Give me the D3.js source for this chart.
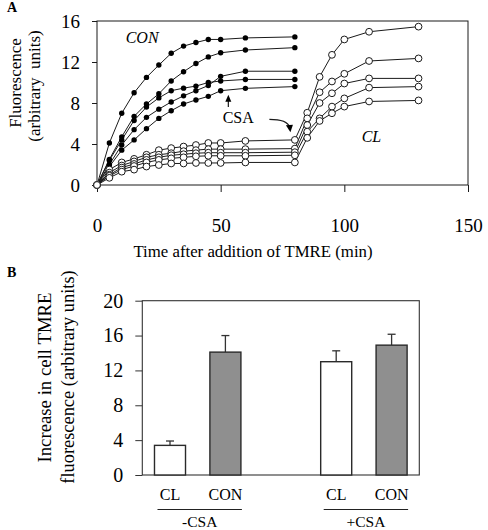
<!DOCTYPE html>
<html>
<head>
<meta charset="utf-8">
<script src="https://cdn.jsdelivr.net/npm/d3@7"></script>
<style>
  html, body { margin: 0; padding: 0; background: #fff; }
  svg { display: block; }
  svg text { font-family: "Liberation Serif", "Times New Roman", serif !important; }
</style>
</head>
<body>
<svg id="chart" width="488" height="530"></svg>
<script>
// ---------------- Panel A data ----------------
const conTimes = [0, 5, 10, 15, 20, 25, 30, 35, 40, 45, 50, 60, 80];
const con1 = [0, 4.1, 7.0, 9.0, 10.5, 11.7, 12.85, 13.55, 13.9, 14.2, 14.2, 14.35, 14.45];
const con2 = [0, 2.5, 4.7, 6.7, 7.9, 8.9, 10.15, 11.05, 11.85, 12.5, 12.9, 13.17, 13.4];
const con3 = [0, 2.0, 3.9, 5.4, 6.6, 7.4, 8.1, 8.7, 9.2, 9.7, 10.6, 11.1, 11.1];
const con4 = [0, 2.4, 4.4, 6.3, 7.6, 8.5, 9.2, 9.45, 9.65, 10.0, 10.15, 10.3, 10.3];
const con5 = [0, 1.8, 3.4, 4.4, 5.5, 6.5, 7.25, 7.9, 8.3, 8.65, 9.2, 9.43, 9.6];

const clTimes = [0, 5, 10, 15, 20, 25, 30, 35, 40, 45, 50, 60, 80, 85, 90, 95, 100, 110, 130];
const cl1 = [0, 1.5, 2.2, 2.55, 2.95, 3.4, 3.6, 3.75, 3.9, 4.1, 4.1, 4.3, 4.4, 7.05, 10.55, 12.7, 14.2, 14.95, 15.45];
const cl2 = [0, 1.2, 1.9, 2.3, 2.7, 2.95, 3.1, 3.3, 3.4, 3.5, 3.5, 3.5, 3.55, 6.5, 9.05, 10.1, 10.85, 12.1, 12.35];
const cl3 = [0, 1.0, 1.7, 2.05, 2.45, 2.7, 2.9, 3.0, 3.1, 3.15, 3.15, 3.15, 3.2, 5.85, 8.0, 8.95, 9.9, 10.4, 10.4];
const cl4 = [0, 0.9, 1.5, 1.85, 2.2, 2.45, 2.6, 2.7, 2.8, 2.85, 2.85, 2.85, 2.9, 5.2, 6.5, 7.65, 8.45, 9.5, 9.6];
const cl5 = [0, 0.7, 1.3, 1.5, 1.8, 1.95, 2.1, 2.1, 2.15, 2.15, 2.15, 2.2, 2.2, 4.6, 6.25, 7.0, 7.65, 8.15, 8.25];

const conSeries = [con1, con2, con3, con4, con5];
const clSeries = [cl1, cl2, cl3, cl4, cl5];

const aXTicks = [0, 50, 100, 150];
const aYTicks = [0, 4, 8, 12, 16];

// ---------------- Panel B data ----------------
const barGroups = ["-CSA", "+CSA"];
const barCats = ["CL", "CON"];
const barValues = [3.4, 14.1, 13.0, 14.9];   // -CSA CL, -CSA CON, +CSA CL, +CSA CON
const barErrors = [0.5, 1.9, 1.25, 1.25];
const bYTicks = [0, 4, 8, 12, 16, 20];

// ---------------- Drawing ----------------
const FONT = "Liberation Serif";
const svg = d3.select("#chart").attr("font-family", FONT);
const ink = "#1a1a1a";

// ===== Panel A =====
const A = { left: 97, right: 468, top: 21, bottom: 185 };
const xA = d3.scaleLinear().domain([0, 150]).range([A.left, A.right]);
const yA = d3.scaleLinear().domain([0, 16]).range([A.bottom, A.top]);

const gA = svg.append("g");

gA.append("rect")
  .attr("x", A.left).attr("y", A.top)
  .attr("width", A.right - A.left).attr("height", A.bottom - A.top)
  .attr("fill", "none").attr("stroke", ink).attr("stroke-width", 1);

const axA_y = gA.append("g").attr("transform", `translate(${A.left},0)`)
  .call(d3.axisLeft(yA).tickValues(aYTicks).tickSize(5).tickSizeOuter(0).tickPadding(12));
const axA_x = gA.append("g").attr("transform", `translate(0,${A.bottom})`)
  .call(d3.axisBottom(xA).tickValues(aXTicks).tickSize(7).tickSizeOuter(0).tickPadding(27));
[axA_y, axA_x].forEach(ax => {
  ax.attr("font-family", FONT).attr("font-size", 19);
  ax.select(".domain").remove();
  ax.selectAll("line").attr("stroke", ink);
  ax.selectAll("text").style("font-family", FONT).attr("font-size", 19).attr("fill", "#000");
});

const lineCon = (vals) => d3.line().x((d, i) => xA(conTimes[i])).y(d => yA(d))(vals);
const lineCl = (vals) => d3.line().x((d, i) => xA(clTimes[i])).y(d => yA(d))(vals);

conSeries.forEach(s => {
  gA.append("path").attr("d", lineCon(s)).attr("fill", "none").attr("stroke", ink).attr("stroke-width", 1);
});
conSeries.forEach(s => {
  gA.append("g").selectAll("circle").data(s).join("circle")
    .attr("cx", (d, i) => xA(conTimes[i])).attr("cy", d => yA(d))
    .attr("r", 2.7).attr("fill", "#000");
});
clSeries.forEach(s => {
  gA.append("path").attr("d", lineCl(s)).attr("fill", "none").attr("stroke", ink).attr("stroke-width", 1);
});
clSeries.forEach(s => {
  gA.append("g").selectAll("circle").data(s).join("circle")
    .attr("cx", (d, i) => xA(clTimes[i])).attr("cy", d => yA(d))
    .attr("r", 3.4).attr("fill", "#fff").attr("stroke", ink).attr("stroke-width", 1);
});

// annotations
gA.append("text").attr("x", xA(11.6)).attr("y", yA(13.88))
  .attr("font-size", 16).attr("font-style", "italic").text("CON");
gA.append("text").attr("x", xA(107)).attr("y", yA(4.22))
  .attr("font-size", 16).attr("font-style", "italic").text("CL");
gA.append("text").attr("x", xA(50.8)).attr("y", yA(6.05))
  .attr("font-size", 16).text("CSA");

const upX = xA(53.1), upTip = yA(8.8), upTail = yA(7.6);
gA.append("line").attr("x1", upX).attr("x2", upX).attr("y1", upTail).attr("y2", upTip + 5)
  .attr("stroke", ink).attr("stroke-width", 1.2);
gA.append("path")
  .attr("d", `M${upX},${upTip} L${upX - 3},${upTip + 7} L${upX + 3},${upTip + 7} Z`)
  .attr("fill", "#000");

const cs = [xA(69.7), yA(6.4)], cc = [xA(77.0), yA(6.4)], ct = [xA(78.2), yA(5.15)];
gA.append("path")
  .attr("d", `M${cs[0]},${cs[1]} Q${cc[0]},${cc[1]} ${ct[0] - 0.8},${ct[1] - 5}`)
  .attr("fill", "none").attr("stroke", ink).attr("stroke-width", 1.2);
gA.append("path")
  .attr("d", `M${ct[0]},${ct[1]} L${ct[0] - 4.5},${ct[1] - 7} L${ct[0] + 2.5},${ct[1] - 7.5} Z`)
  .attr("fill", "#000");

gA.append("text").attr("transform", `translate(21,83) rotate(-90)`)
  .attr("text-anchor", "middle").attr("font-size", 17).text("Fluorescence");
gA.append("text").attr("transform", `translate(40,86) rotate(-90)`)
  .attr("text-anchor", "middle").attr("font-size", 17)
  .style("white-space", "pre").text("(arbitrary  units)");
gA.append("text").attr("x", 253).attr("y", 257)
  .attr("text-anchor", "middle").attr("font-size", 16.8).text("Time after addition of TMRE (min)");

svg.append("text").attr("x", 7).attr("y", 12).attr("font-size", 14).attr("font-weight", "bold").text("A");
svg.append("text").attr("x", 7).attr("y", 277).attr("font-size", 14).attr("font-weight", "bold").text("B");

// ===== Panel B =====
const B = { left: 142.3, right: 419.3, top: 300.7, bottom: 475 };
const slots = ["-CSA|CL", "-CSA|CON", "gap", "+CSA|CL", "+CSA|CON"];
const xB = d3.scaleBand().domain(slots).range([B.left, B.right]).paddingInner(0.44).paddingOuter(0.22);
const yB = d3.scaleLinear().domain([0, 20]).range([B.bottom, B.top]);

const gB = svg.append("g");
gB.append("rect")
  .attr("x", B.left).attr("y", B.top)
  .attr("width", B.right - B.left).attr("height", B.bottom - B.top)
  .attr("fill", "none").attr("stroke", "#333").attr("stroke-width", 1.1);

const axB_y = gB.append("g").attr("transform", `translate(${B.left},0)`)
  .call(d3.axisLeft(yB).tickValues(bYTicks).tickSize(7).tickSizeOuter(0).tickPadding(12));
axB_y.attr("font-family", FONT).attr("font-size", 20);
axB_y.select(".domain").remove();
axB_y.selectAll("line").attr("stroke", "#333");
axB_y.selectAll("text").style("font-family", FONT).attr("font-size", 20).attr("fill", "#000");

const barData = [];
barGroups.forEach((g, gi) => barCats.forEach((c, ci) => {
  const k = gi * 2 + ci;
  barData.push({ key: g + "|" + c, group: g, cat: c, v: barValues[k], e: barErrors[k] });
}));

barData.forEach(d => {
  const cx = xB(d.key) + xB.bandwidth() / 2;
  gB.append("line").attr("x1", cx).attr("x2", cx).attr("y1", yB(d.v)).attr("y2", yB(d.v + d.e))
    .attr("stroke", "#333").attr("stroke-width", 1.3);
  gB.append("line").attr("x1", cx - 4).attr("x2", cx + 4).attr("y1", yB(d.v + d.e)).attr("y2", yB(d.v + d.e))
    .attr("stroke", "#333").attr("stroke-width", 1.3);
});
gB.selectAll("rect.bar").data(barData).join("rect").attr("class", "bar")
  .attr("x", d => xB(d.key)).attr("width", xB.bandwidth())
  .attr("y", d => yB(d.v)).attr("height", d => yB(0) - yB(d.v))
  .attr("fill", d => d.cat === "CL" ? "#ffffff" : "#8f8f8f")
  .attr("stroke", "#2a2a2a").attr("stroke-width", 1.4);

gB.selectAll("text.cat").data(barData).join("text").attr("class", "cat")
  .attr("x", d => xB(d.key) + xB.bandwidth() / 2).attr("y", 499.5)
  .attr("text-anchor", "middle").attr("font-size", 16).text(d => d.cat);

barGroups.forEach(g => {
  const x0 = xB(g + "|CL") + 3, x1 = xB(g + "|CON") + xB.bandwidth() + 1;
  gB.append("line").attr("x1", x0).attr("x2", x1).attr("y1", 509.5).attr("y2", 509.5)
    .attr("stroke", "#222").attr("stroke-width", 1);
  gB.append("text").attr("x", (x0 + x1) / 2).attr("y", 527)
    .attr("text-anchor", "middle").attr("font-size", 15.5).text(g);
});

gB.append("text").attr("transform", `translate(51,377.5) rotate(-90)`)
  .attr("text-anchor", "middle").attr("font-size", 18.8).text("Increase in cell TMRE");
gB.append("text").attr("transform", `translate(74,377) rotate(-90)`)
  .attr("text-anchor", "middle").attr("font-size", 18.4).text("fluorescence (arbitrary units)");
</script>
</body>
</html>
